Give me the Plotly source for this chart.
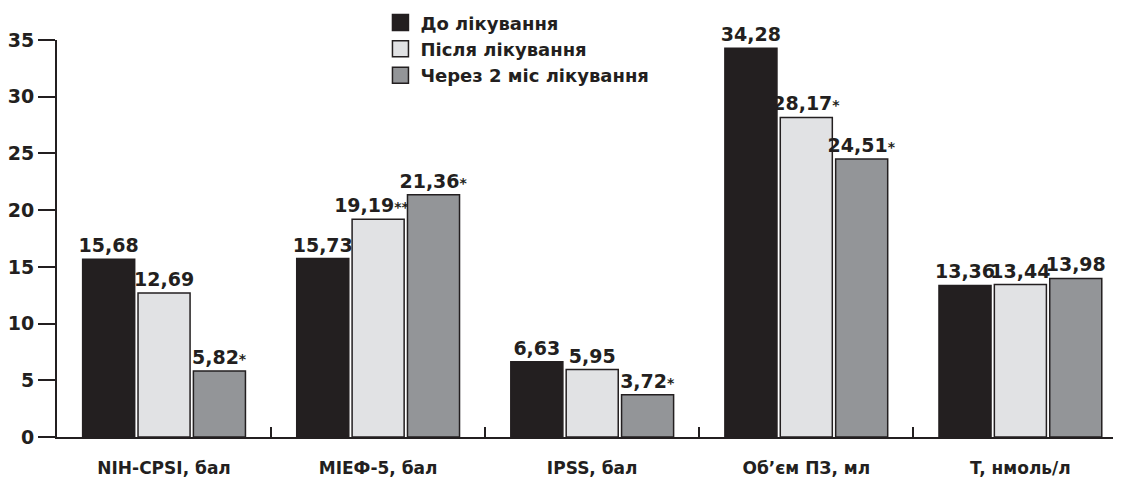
import plotly.graph_objects as go

categories = ["NIH-CPSI, бал", "MIEФ-5, бал", "IPSS, бал", "Об’єм ПЗ, мл", "T, нмоль/л"]
series_names = ["До лікування", "Після лікування", "Через 2 міс лікування"]
before = [15.68, 15.73, 6.63, 34.28, 13.36]
after = [12.69, 19.19, 5.95, 28.17, 13.44]
after2m = [5.82, 21.36, 3.72, 24.51, 13.98]
marks_before = ["", "", "", "", ""]
marks_after = ["", "**", "", "*", ""]
marks_after2m = ["*", "*", "*", "*", ""]
y_ticks = [0, 5, 10, 15, 20, 25, 30, 35]

colors = ["#231f20", "#e1e2e4", "#939598"]
INK = "#231f20"
FONT = "DejaVu Sans"


def make_labels(vals, marks):
    out = []
    for v, m in zip(vals, marks):
        s = f"{v:.2f}".replace(".", ",")
        if m:
            s += f"<span style='font-size:14px'>{m}</span>"
            if len(m) > 1:
                # nudge a long label left so it clears the neighbouring bar
                s += "\u00a0\u00a0"
        out.append(s)
    return out


fig = go.Figure()
for name, vals, marks, col in zip(series_names, [before, after, after2m],
                                  [marks_before, marks_after, marks_after2m], colors):
    fig.add_trace(go.Bar(
        x=categories, y=vals, name=name, text=make_labels(vals, marks),
        textposition="outside", constraintext="none", cliponaxis=False,
        textfont=dict(family=FONT, size=19, color=INK, weight="bold"),
        marker=dict(color=col, line=dict(color=INK, width=1.5)),
        showlegend=False,
    ))
    # legend proxy with larger square symbol
    fig.add_trace(go.Scatter(
        x=[None], y=[None], mode="markers", name=name,
        marker=dict(symbol="square", size=16, color=col, line=dict(color=INK, width=1.5)),
        showlegend=True,
    ))

# page body adds an 8px offset; figure is sized to compensate
fig.update_layout(
    width=1113, height=470,
    margin=dict(l=49, r=0, t=32, b=41, autoexpand=False),
    paper_bgcolor="white", plot_bgcolor="white",
    barmode="group", bargap=0.224, bargroupgap=0.06,
    font=dict(family=FONT, color=INK),
    legend=dict(
        x=0.304, y=1.09, xanchor="left", yanchor="top",
        font=dict(family=FONT, size=18, color=INK, weight="bold"),
        bgcolor="rgba(0,0,0,0)", tracegroupgap=0, itemsizing="trace",
    ),
    xaxis=dict(
        range=[-0.5, 4.47], showline=True, linecolor=INK, linewidth=2,
        ticks="inside", tickson="boundaries", ticklen=10, tickwidth=2, tickcolor=INK,
        ticklabelstandoff=15, automargin=False,
        tickfont=dict(family=FONT, size=17, color=INK, weight="bold"),
        showgrid=False, zeroline=False, fixedrange=True,
    ),
    yaxis=dict(
        range=[0, 35], tickvals=y_ticks, showline=True, linecolor=INK, linewidth=2,
        ticks="outside", ticklen=17, tickwidth=2, tickcolor=INK, automargin=False,
        tickfont=dict(family=FONT, size=19, color=INK, weight="bold"),
        showgrid=False, zeroline=False, fixedrange=True,
    ),
)

fig.write_html("out.html")
